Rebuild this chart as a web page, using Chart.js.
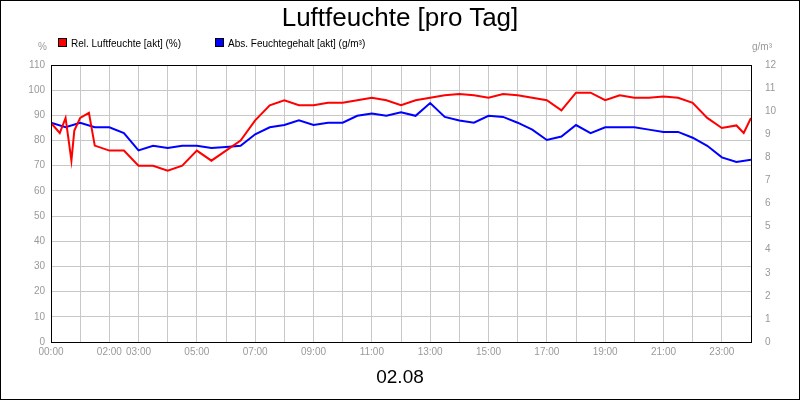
<!DOCTYPE html>
<html><head><meta charset="utf-8">
<script src="https://cdn.jsdelivr.net/npm/chart.js@4"></script>
<style>
body{margin:0;background:#fff;font-family:"Liberation Sans",Arial,sans-serif}
#wrap{position:relative;width:800px;height:400px}
#frame{position:absolute;left:0;top:0;width:798px;height:398px;border:1px solid #000;pointer-events:none}
.t{position:absolute;white-space:nowrap}
</style></head><body>
<div id="wrap">
<canvas id="c" width="800" height="400"></canvas>
<div id="frame"></div>
<div class="t" style="left:0;width:800px;top:2px;text-align:center;font-size:26px">Luftfeuchte [pro Tag]</div>
<div class="t" style="left:38px;top:41px;font-size:10px;color:#999">%</div>
<div class="t" style="left:752px;top:41px;font-size:10px;color:#999">g/m³</div>
<div class="t" style="left:58px;top:38px;font-size:10px"><span style="display:inline-block;width:7px;height:7px;background:#f00;border:1px solid #000;margin-right:4px"></span>Rel. Luftfeuchte [akt] (%)</div>
<div class="t" style="left:215px;top:38px;font-size:10px"><span style="display:inline-block;width:7px;height:7px;background:#00f;border:1px solid #000;margin-right:4px"></span>Abs. Feuchtegehalt [akt] (g/m³)</div>
<div class="t" style="left:0;width:800px;top:366px;text-align:center;font-size:19px">02.08</div>
</div>
<script>
const hours=[0,0.3,0.5,0.7,0.8,1,1.3,1.5,2,2.5,3,3.5,4,4.5,5,5.5,6,6.5,7,7.5,8,8.5,9,9.5,10,10.5,11,11.5,12,12.5,13,13.5,14,14.5,15,15.5,16,16.5,17,17.5,18,18.5,19,19.5,20,20.5,21,21.5,22,22.5,23,23.5,23.75,24];
const relHum=[87,83,89,72,84,89,91,78,76,76,70,70,68,70,76,72,76,80,88,94,96,94,94,95,95,96,97,96,94,96,97,98,98.5,98,97,98.5,98,97,96,92,99,99,96,98,97,97,97.5,97,95,89,85,86,83,89];
const absHours=[0,0.5,1,1.5,2,2.5,3,3.5,4,4.5,5,5.5,6,6.5,7,7.5,8,8.5,9,9.5,10,10.5,11,11.5,12,12.5,13,13.5,14,14.5,15,15.5,16,16.5,17,17.5,18,18.5,19,19.5,20,20.5,21,21.5,22,22.5,23,23.5,24];
const absHum=[9.5,9.3,9.5,9.3,9.3,9.05,8.3,8.5,8.4,8.5,8.5,8.4,8.45,8.5,9.0,9.3,9.4,9.6,9.4,9.5,9.5,9.8,9.9,9.8,9.95,9.8,10.35,9.75,9.6,9.5,9.8,9.75,9.5,9.2,8.75,8.9,9.4,9.05,9.3,9.3,9.3,9.2,9.1,9.1,8.85,8.5,8.0,7.8,7.9];
const shownHours=[0,2,3,5,7,9,11,13,15,17,19,21,23];
const frame={id:'frame',afterDraw(c){const a=c.chartArea,x=c.ctx;x.save();x.strokeStyle='#000';x.lineWidth=1;x.strokeRect(a.left+0.5,a.top+0.5,a.right-a.left,a.bottom-a.top);x.restore();}};
new Chart(document.getElementById('c'),{
type:'line',
data:{datasets:[
{data:hours.map((h,i)=>({x:h,y:relHum[i]})),borderColor:'#f00',borderWidth:2,pointRadius:0,yAxisID:'y',tension:0},
{data:absHours.map((h,i)=>({x:h,y:absHum[i]})),borderColor:'#00f',borderWidth:2,pointRadius:0,yAxisID:'y1',tension:0}]},
options:{responsive:false,animation:false,layout:{padding:{top:65,left:0,right:0,bottom:0}},
plugins:{legend:{display:false},tooltip:{enabled:false}},
scales:{
x:{type:'linear',min:0,max:24,afterFit(s){s.height=58},grid:{color:'#c8c8c8',drawTicks:false},border:{display:false},
ticks:{stepSize:1,autoSkip:false,maxRotation:0,color:'#999',font:{size:10},padding:4,callback:v=>shownHours.includes(v)?String(v).padStart(2,'0')+':00':''}},
y:{position:'left',min:0,max:110,afterFit(s){s.width=51},grid:{color:'#c8c8c8',drawTicks:false},border:{display:false},
ticks:{stepSize:10,color:'#999',font:{size:10},padding:6}},
y1:{position:'right',min:0,max:12,afterFit(s){s.width=49},grid:{display:false},border:{display:false},
ticks:{stepSize:1,color:'#999',font:{size:10},padding:6}}}},
plugins:[frame]});
</script></body></html>
